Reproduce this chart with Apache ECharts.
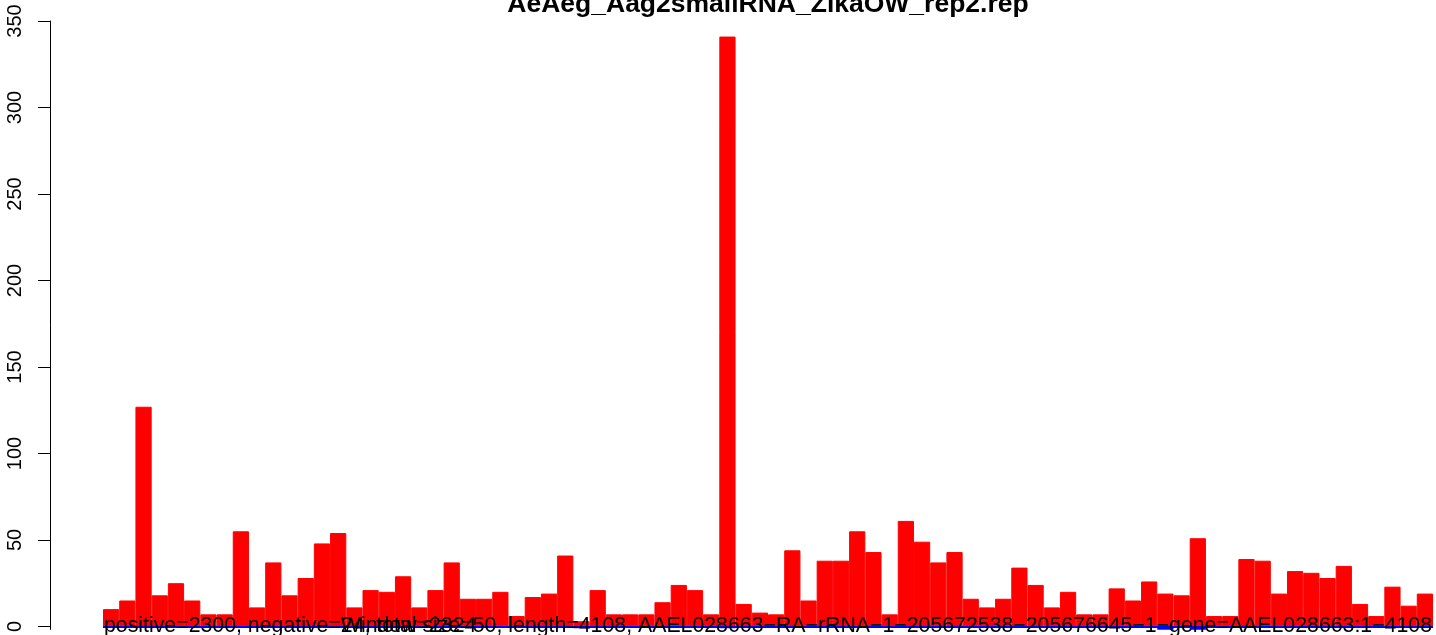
<!DOCTYPE html>
<html><head><meta charset="utf-8">
<script src="https://cdn.jsdelivr.net/npm/echarts@6/dist/echarts.min.js"></script>
<style>html,body{margin:0;padding:0;background:#fff}#c{width:1436px;height:635px}</style>
</head><body><div id="c"></div>
<script>
const titleText = 'AeAeg_Aag2smallRNA_ZikaOW_rep2.rep';
const leftNote = 'positive=2300, negative=24, total=2324';
const rightNote = 'Window size=50, length=4108, AAEL028663\u2212RA\u2212rRNA\u22121\u2212205672538\u2212205676645\u22121\u2212gene=AAEL028663:1\u22124108';

const positive = [
  10, 15, 127, 18, 25, 15, 7, 7, 55, 11,
  37, 18, 28, 48, 54, 11, 21, 20, 29, 11,
  21, 37, 16, 16, 20, 6, 17, 19, 41, 3,
  21, 7, 7, 7, 14, 24, 21, 7, 341, 13,
  8, 7, 44, 15, 38, 38, 55, 43, 7, 61,
  49, 37, 43, 16, 11, 16, 34, 24, 11, 20,
  7, 7, 22, 15, 26, 19, 18, 51, 6, 6,
  39, 38, 19, 32, 31, 28, 35, 13, 6, 23,
  12, 19
];
const negative = [
  0, 0, 0, 0, 0, 0, 0, 0, 0, 0,
  0, 0, 0, 0, 0, 0, 0, 0, 0, 0,
  0, 0, 0, 0, 0, 0, 0, 0, 0, -1,
  0, 0, 0, 0, 0, 0, 0, 0, -1, 0,
  0, 0, 0, 0, 0, 0, 0, 0, 0, 0,
  0, 0, 0, 0, 0, 0, 0, 0, 0, 0,
  0, 0, 0, 0, 0, -2, 0, -2, 0, 0,
  0, 0, 0, 0, 0, 0, 0, 0, 0, 0,
  0, 0
];
const windows = positive.map((_, i) => String(i * 50 + 1));
const yTicks = [0, 50, 100, 150, 200, 250, 300, 350];

const FONT = "'Liberation Sans', Arial, Helvetica, sans-serif";
const GRID = { left: 103, right: 3, top: 21, bottom: 0 };
const W = 1436, H = 635;
const yMax = 350;
const yMin = -yMax * 3 / (H - GRID.top - GRID.bottom - 3);

const chart = echarts.init(document.getElementById('c'), null, { renderer: 'canvas' });
chart.setOption({
  animation: false,
  backgroundColor: '#ffffff',
  grid: GRID,
  xAxis: {
    type: 'category',
    data: windows,
    boundaryGap: true,
    axisLine: { show: false },
    axisTick: { show: false },
    axisLabel: { show: false },
    splitLine: { show: false }
  },
  yAxis: {
    type: 'value',
    min: yMin,
    max: yMax,
    offset: 53,
    splitLine: { show: false },
    axisLine: { show: true, lineStyle: { color: '#000', width: 1 } },
    axisTick: { show: true, length: 12, lineStyle: { color: '#000', width: 1 }, customValues: yTicks },
    axisLabel: {
      customValues: yTicks,
      rotate: 90,
      margin: 25,
      color: '#000',
      fontSize: 20,
      fontFamily: FONT
    }
  },
  series: [
    {
      type: 'bar',
      data: positive,
      z: 3,
      barCategoryGap: '0%',
      barGap: '-100%',
      itemStyle: { color: '#ff0000', borderColor: '#ff0000', borderWidth: 1 },
      silent: true
    },
    {
      type: 'bar',
      data: negative,
      z: 1,
      barCategoryGap: '0%',
      barGap: '-100%',
      itemStyle: { color: '#0000ff', borderColor: '#0000ff', borderWidth: 0.6 },
      silent: true,
      markLine: {
        silent: true,
        symbol: 'none',
        label: { show: false },
        lineStyle: { color: '#0000ff', width: 2, type: 'solid' },
        data: [{ yAxis: 0 }]
      }
    }
  ],
  graphic: [
    {
      type: 'text', silent: true, z: 100,
      style: { text: titleText, x: 768, y: 5, align: 'center', verticalAlign: 'middle',
               font: 'bold 26.5px ' + FONT, fill: '#000' }
    },
    {
      type: 'text', silent: true, z: 100,
      style: { text: leftNote, x: GRID.left + 1, y: 626, align: 'left', verticalAlign: 'middle',
               font: '21.3px ' + FONT, fill: '#000' }
    },
    {
      type: 'text', silent: true, z: 100,
      style: { text: rightNote, x: W - GRID.right - 1, y: 626, align: 'right', verticalAlign: 'middle',
               font: '21.3px ' + FONT, fill: '#000' }
    }
  ]
});
</script></body></html>
